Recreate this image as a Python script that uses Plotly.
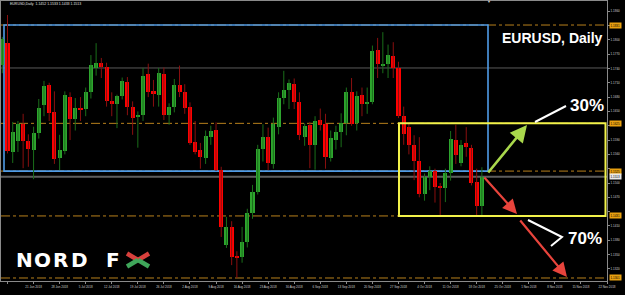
import plotly.graph_objects as go
from datetime import datetime

# ---------------- data ----------------
dates = [
    "2018-06-13", "2018-06-14", "2018-06-15", "2018-06-18", "2018-06-19", "2018-06-20", "2018-06-21",
    "2018-06-22", "2018-06-25", "2018-06-26", "2018-06-27", "2018-06-28", "2018-06-29",
    "2018-07-02", "2018-07-03", "2018-07-04", "2018-07-05", "2018-07-06", "2018-07-09", "2018-07-10",
    "2018-07-11", "2018-07-12", "2018-07-13", "2018-07-16", "2018-07-17", "2018-07-18", "2018-07-19",
    "2018-07-20", "2018-07-23", "2018-07-24", "2018-07-25", "2018-07-26", "2018-07-27", "2018-07-30",
    "2018-07-31",
    "2018-08-01", "2018-08-02", "2018-08-03", "2018-08-06", "2018-08-07", "2018-08-08", "2018-08-09",
    "2018-08-10", "2018-08-13", "2018-08-14", "2018-08-15", "2018-08-16", "2018-08-17", "2018-08-20",
    "2018-08-21", "2018-08-22", "2018-08-23", "2018-08-24", "2018-08-27", "2018-08-28", "2018-08-29",
    "2018-08-30", "2018-08-31",
    "2018-09-03", "2018-09-04", "2018-09-05", "2018-09-06", "2018-09-07", "2018-09-10", "2018-09-11",
    "2018-09-12", "2018-09-13", "2018-09-14", "2018-09-17", "2018-09-18", "2018-09-19", "2018-09-20",
    "2018-09-21", "2018-09-24", "2018-09-25", "2018-09-26", "2018-09-27", "2018-09-28",
    "2018-10-01", "2018-10-02", "2018-10-03", "2018-10-04", "2018-10-05", "2018-10-08", "2018-10-09",
    "2018-10-10", "2018-10-11", "2018-10-12", "2018-10-15", "2018-10-16", "2018-10-17", "2018-10-18",
    "2018-10-19",
]
opens = [
    1.1747, 1.1793, 1.1565, 1.1588, 1.1624, 1.1588, 1.1569, 1.1605, 1.1663, 1.1705, 1.1649, 1.1552, 1.1567,
    1.1680, 1.1635, 1.1657, 1.1655, 1.1691, 1.1741, 1.1751, 1.1743, 1.1672, 1.1665, 1.1683, 1.1711, 1.1659,
    1.1640, 1.1643, 1.1728, 1.1693, 1.1684, 1.1728, 1.1643, 1.1659, 1.1705,
    1.1690, 1.1659, 1.1586, 1.1569, 1.1552, 1.1597, 1.1611, 1.1527, 1.1370, 1.1408, 1.1345, 1.1345, 1.1376,
    1.1437, 1.1481, 1.1571, 1.1597, 1.1540, 1.1617, 1.1678, 1.1695, 1.1707, 1.1670,
    1.1597, 1.1622, 1.1580, 1.1632, 1.1624, 1.1552, 1.1590, 1.1607, 1.1626, 1.1690, 1.1626, 1.1684, 1.1665,
    1.1670, 1.1779, 1.1745, 1.1749, 1.1766, 1.1741, 1.1640,
    1.1617, 1.1580, 1.1546, 1.1477, 1.1513, 1.1525, 1.1492, 1.1490, 1.1521, 1.1590, 1.1542, 1.1584, 1.1573,
    1.1502, 1.1452,
]
highs = [
    1.1806, 1.1852, 1.1628, 1.1630, 1.1645, 1.1602, 1.1618, 1.1676, 1.1714, 1.1710, 1.1692, 1.1601, 1.1692,
    1.1690, 1.1678, 1.1680, 1.1700, 1.1768, 1.1793, 1.1762, 1.1752, 1.1690, 1.1685, 1.1721, 1.1722, 1.1671,
    1.1650, 1.1741, 1.1750, 1.1716, 1.1741, 1.1742, 1.1667, 1.1718, 1.1746,
    1.1707, 1.1669, 1.1630, 1.1584, 1.1610, 1.1620, 1.1627, 1.1534, 1.1429, 1.1420, 1.1357, 1.1408, 1.1446,
    1.1496, 1.1580, 1.1623, 1.1616, 1.1637, 1.1690, 1.1735, 1.1717, 1.1719, 1.1690,
    1.1625, 1.1628, 1.1640, 1.1656, 1.1645, 1.1610, 1.1620, 1.1646, 1.1700, 1.1720, 1.1692, 1.1700, 1.1700,
    1.1788, 1.1804, 1.1816, 1.1790, 1.1795, 1.1754, 1.1660,
    1.1624, 1.1600, 1.1596, 1.1520, 1.1535, 1.1530, 1.1500, 1.1530, 1.1609, 1.1622, 1.1590, 1.1617, 1.1580,
    1.1530, 1.1533,
]
lows = [
    1.1730, 1.1562, 1.1542, 1.1565, 1.1531, 1.1534, 1.1508, 1.1593, 1.1640, 1.1630, 1.1540, 1.1527, 1.1560,
    1.1590, 1.1610, 1.1630, 1.1640, 1.1677, 1.1725, 1.1720, 1.1660, 1.1640, 1.1615, 1.1675, 1.1642, 1.1601,
    1.1574, 1.1630, 1.1680, 1.1660, 1.1660, 1.1632, 1.1622, 1.1648, 1.1680,
    1.1645, 1.1580, 1.1560, 1.1530, 1.1540, 1.1580, 1.1525, 1.1387, 1.1364, 1.1328, 1.1301, 1.1333, 1.1365,
    1.1425, 1.1476, 1.1545, 1.1527, 1.1530, 1.1602, 1.1665, 1.1655, 1.1655, 1.1590,
    1.1578, 1.1531, 1.1528, 1.1610, 1.1530, 1.1545, 1.1570, 1.1575, 1.1600, 1.1620, 1.1610, 1.1640, 1.1645,
    1.1665, 1.1720, 1.1730, 1.1720, 1.1720, 1.1636, 1.1580,
    1.1560, 1.1506, 1.1470, 1.1463, 1.1485, 1.1459, 1.1432, 1.1460, 1.1505, 1.1540, 1.1535, 1.1555, 1.1495,
    1.1432, 1.1433,
]
closes = [
    1.1802, 1.1567, 1.1607, 1.1624, 1.1588, 1.1571, 1.1605, 1.1657, 1.1703, 1.1647, 1.1550, 1.1569, 1.1684,
    1.1635, 1.1657, 1.1652, 1.1691, 1.1747, 1.1751, 1.1743, 1.1672, 1.1665, 1.1683, 1.1713, 1.1659, 1.1637,
    1.1643, 1.1724, 1.1691, 1.1686, 1.1730, 1.1643, 1.1659, 1.1705, 1.1691,
    1.1657, 1.1584, 1.1565, 1.1554, 1.1599, 1.1610, 1.1527, 1.1408, 1.1408, 1.1345, 1.1344, 1.1377, 1.1437,
    1.1481, 1.1571, 1.1597, 1.1541, 1.1624, 1.1678, 1.1695, 1.1709, 1.1670, 1.1600,
    1.1620, 1.1580, 1.1630, 1.1622, 1.1555, 1.1595, 1.1607, 1.1626, 1.1690, 1.1624, 1.1682, 1.1665, 1.1670,
    1.1777, 1.1749, 1.1750, 1.1768, 1.1741, 1.1640, 1.1603,
    1.1580, 1.1546, 1.1477, 1.1513, 1.1525, 1.1492, 1.1490, 1.1520, 1.1593, 1.1559, 1.1580, 1.1575, 1.1500,
    1.1452, 1.1513,
]
future_dates = [
    "2018-10-22", "2018-10-23", "2018-10-24", "2018-10-25", "2018-10-26", "2018-10-29", "2018-10-30",
    "2018-10-31", "2018-11-01", "2018-11-02", "2018-11-05", "2018-11-06", "2018-11-07", "2018-11-08",
    "2018-11-09", "2018-11-12", "2018-11-13", "2018-11-14", "2018-11-15", "2018-11-16", "2018-11-19",
    "2018-11-20", "2018-11-21", "2018-11-22", "2018-11-23",
]
price_ticks = [1.1320, 1.1350, 1.1380, 1.1410, 1.1440, 1.1470, 1.1500, 1.1530, 1.1560,
               1.1590, 1.1620, 1.1650, 1.1680, 1.1710, 1.1740, 1.1770, 1.1800, 1.1830, 1.1860]
level_prices = [1.1831, 1.1625, 1.1525, 1.1431, 1.1301]   # dotted orange levels
bid_price = 1.1513
gray_level = 1.1741
range_box = [1.1525, 1.1831]
target_box = [1.1431, 1.1625]
title_text = "EURUSD,Daily  1.1452 1.1533 1.1433 1.1513"

# ---------------- geometry helpers (for drawings only) ----------------
W, H = 625, 295
ML, MR, MT, MB = 1, 18, 1, 14
PX0, PXS = 2.287, 5.213          # pixel of bar position 0, pixels per bar
PY_REF, P_REF, PY_PER = 15, 1.1852, 4773.0


def px2x(px):
    return (px - PX0) / PXS


def px2y(py):
    return P_REF - (py - PY_REF) / PY_PER


def pxp(px):
    return (px - ML) / (W - ML - MR)


def pyp(py):
    return 1 - (py - MT) / (H - MT - MB)


pos = list(range(len(dates)))
bull = [c >= o for o, c in zip(opens, closes)]

GREEN_BODY, GREEN_WICK = "#2ea52e", "#1a6e1a"
RED_BODY, RED_WICK = "#ff0000", "#8a0f0f"

fig = go.Figure()

for is_bull, wick_col, body_col in [(True, GREEN_WICK, GREEN_BODY), (False, RED_WICK, RED_BODY)]:
    idx = [i for i in pos if bull[i] == is_bull]
    wx, wy = [], []
    for i in idx:
        wx += [pos[i], pos[i], None]
        wy += [lows[i], highs[i], None]
    fig.add_trace(go.Scatter(x=wx, y=wy, mode="lines", line=dict(color=wick_col, width=1),
                             hoverinfo="skip", showlegend=False))
    fig.add_trace(go.Bar(
        x=[pos[i] for i in idx],
        base=[min(opens[i], closes[i]) for i in idx],
        y=[max(abs(closes[i] - opens[i]), 0.00025) for i in idx],
        width=0.78, marker=dict(color=body_col, line=dict(width=0)),
        hoverinfo="skip", showlegend=False))

# ---------------- axes ----------------
all_dates = dates + future_dates
tick_pos = list(range(1, len(all_dates), 5))
tick_text = []
for i in tick_pos:
    d = datetime.strptime(all_dates[i], "%Y-%m-%d")
    tick_text.append(f"{d.day} {d:%b %Y}")

# price labels hidden where a highlighted level label sits on top of them
price_text = []
for v in price_ticks:
    near = any(abs(v - lv) < 0.0009 for lv in level_prices + [bid_price])
    price_text.append("" if near else f"{v:.4f}")

xr = [px2x(ML), px2x(W - MR)]
yr = [px2y(H - MB), px2y(MT)]

fig.update_layout(
    width=W, height=H,
    margin=dict(l=ML, r=MR, t=MT, b=MB),
    paper_bgcolor="#000000", plot_bgcolor="#000000",
    barmode="overlay", bargap=0,
    font=dict(family="Liberation Sans, Arial, sans-serif", color="#d8d8d8"),
    showlegend=False, hovermode=False,
    xaxis=dict(range=xr, showgrid=False, zeroline=False, showline=True, mirror=True,
               linecolor="#8a8a8a", linewidth=1, ticks="outside", ticklen=2, tickcolor="#8a8a8a",
               tickvals=tick_pos, ticktext=tick_text, tickfont=dict(size=3, color="#d0d0d0"),
               tickangle=0, fixedrange=True),
    yaxis=dict(range=yr, side="right", showgrid=False, zeroline=False, showline=True, mirror=True,
               linecolor="#8a8a8a", linewidth=1, ticks="outside", ticklen=2, tickcolor="#8a8a8a",
               tickvals=price_ticks, ticktext=price_text,
               tickfont=dict(size=3, color="#d0d0d0"), fixedrange=True),
)

shapes = []
# dotted levels
for lv in level_prices:
    shapes.append(dict(type="line", xref="paper", x0=0, x1=1, yref="y", y0=lv, y1=lv,
                       line=dict(color="#b8801c", width=1, dash="dashdot"), layer="below"))
# gray horizontal lines
shapes.append(dict(type="line", xref="paper", x0=0, x1=1, yref="y", y0=gray_level, y1=gray_level,
                   line=dict(color="#5a5a5a", width=1), layer="below"))
shapes.append(dict(type="line", xref="paper", x0=0, x1=1, yref="y", y0=bid_price, y1=bid_price,
                   line=dict(color="#5e5e5e", width=2), layer="below"))
# blue range box
shapes.append(dict(type="rect", xref="x", yref="y", x0=px2x(4), x1=px2x(488),
                   y0=range_box[0], y1=range_box[1],
                   line=dict(color="#4f9be6", width=1.6), fillcolor="rgba(0,0,0,0)", layer="below"))
# yellow target box
shapes.append(dict(type="rect", xref="x", yref="y", x0=px2x(399), x1=px2x(605.5),
                   y0=target_box[0], y1=target_box[1],
                   line=dict(color="#f2f24a", width=2), fillcolor="rgba(0,0,0,0)", layer="above"))
# white pointer lines
shapes.append(dict(type="line", xref="x", yref="y", x0=px2x(535), y0=px2y(122), x1=px2x(566), y1=px2y(106),
                   line=dict(color="#ffffff", width=2)))
shapes.append(dict(type="path", xref="x", yref="y",
                   path=f"M {px2x(528)},{px2y(220)} L {px2x(562)},{px2y(237)} L {px2x(551)},{px2y(246)}",
                   line=dict(color="#ffffff", width=2)))

# NORD FX logo "X" (two-tone)
cx, cy = 138, 260
for (x0, y0), col in [((127, 253.5), "#d8403c"), ((149, 253.5), "#d8403c"),
                      ((127, 266.5), "#3fa65a"), ((149, 266.5), "#3fa65a")]:
    shapes.append(dict(type="line", xref="paper", yref="paper", x0=pxp(x0), y0=pyp(y0),
                       x1=pxp(cx), y1=pyp(cy), line=dict(color=col, width=4.5)))
fig.update_layout(shapes=shapes)

ann = []
# arrows
for (tx, ty, hx, hy, col, wd) in [(487, 174, 527, 125, "#a9d84c", 2.6),
                                  (483, 176, 517, 214, "#e8443c", 2.2),
                                  (519, 219, 567, 277, "#e8443c", 2.2)]:
    ann.append(dict(x=px2x(hx), y=px2y(hy), ax=px2x(tx), ay=px2y(ty), xref="x", yref="y",
                    axref="x", ayref="y", text="", showarrow=True, arrowhead=2, arrowsize=1.3,
                    arrowwidth=wd, arrowcolor=col))


def label(px, py, text, size, color="#ffffff", family="Liberation Sans, Arial", xa="center",
          weight="normal"):
    return dict(x=pxp(px), y=pyp(py), xref="paper", yref="paper", text=text, xanchor=xa,
                yanchor="middle", showarrow=False,
                font=dict(size=size, color=color, family=family, weight=weight))


ann.append(label(552, 38, "<b>EURUSD, Daily</b>", 14))
ann.append(label(587, 105, "<b>30%</b>", 17))
ann.append(label(585, 238, "<b>70%</b>", 17))
ann.append(label(8, 4.5, title_text, 3.5, color="#e0e0e0", xa="left"))
ann.append(label(489, 2, "▼", 4, color="#c8c8c8"))
for ch, cxp in [("N", 24), ("O", 42.5), ("R", 60.5), ("D", 79), ("F", 113)]:
    ann.append(label(cxp, 260, ch, 20, family="DejaVu Sans", weight="bold"))
# highlighted price labels
for lv in level_prices:
    ann.append(dict(x=1, y=lv, xref="paper", yref="y", xanchor="left", yanchor="middle", xshift=2,
                    text=f"{lv:.4f}", showarrow=False, bgcolor="#e8a010", borderpad=0.5,
                    font=dict(size=3, color="#000000")))
ann.append(dict(x=1, y=bid_price, xref="paper", yref="y", xanchor="left", yanchor="middle", xshift=2,
                text=f"{bid_price:.4f}", showarrow=False, bgcolor="#e8e8e8", borderpad=0.5,
                font=dict(size=3, color="#000000")))
fig.update_layout(annotations=ann)

fig.write_html("out.html")
